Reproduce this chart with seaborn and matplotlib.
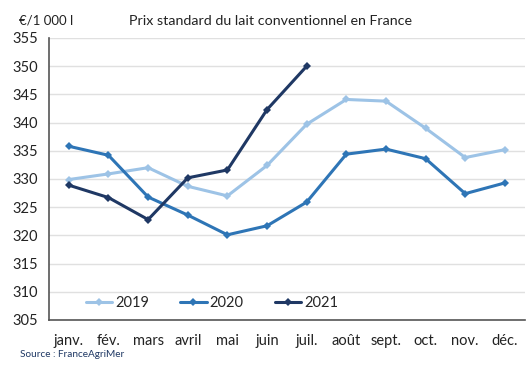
import matplotlib
matplotlib.use('Agg')
import matplotlib.pyplot as plt
import numpy as np
import pandas as pd
import seaborn as sns

months = ['janv.', 'fév.', 'mars', 'avril', 'mai', 'juin', 'juil.',
          'août', 'sept.', 'oct.', 'nov.', 'déc.']
prix_2019 = [329.9, 330.9, 332.0, 328.7, 327.0, 332.4, 339.7, 344.1, 343.8, 339.0, 333.8, 335.2]
prix_2020 = [335.8, 334.2, 326.8, 323.6, 320.1, 321.7, 325.9, 334.4, 335.3, 333.6, 327.4, 329.3]
prix_2021 = [328.9, 326.7, 322.8, 330.2, 331.6, 342.3, 350.0]
years = ['2019', '2020', '2021']
colors = ['#9dc3e6', '#2e75b6', '#1f3864']

rows = []
for yr, vals in zip(years, [prix_2019, prix_2020, prix_2021]):
    for i, v in enumerate(vals):
        rows.append({'mois': i, 'annee': yr, 'prix': v})
df = pd.DataFrame(rows)

sns.set_style('white')
plt.rcParams['font.family'] = ['Lato', 'DejaVu Sans']

fig = plt.figure(figsize=(5.3, 3.76), dpi=100)
ax = fig.add_axes([0.0925, 0.149, 0.8975, 0.75])

sns.lineplot(data=df, x='mois', y='prix', hue='annee', hue_order=years,
             palette=colors, marker='D', markersize=4.5, markeredgewidth=0,
             linewidth=2.2, ax=ax)

ax.set_xlim(-0.5, 11.5)
ax.set_ylim(305, 355)
ax.set_yticks(np.arange(305, 356, 5))
ax.yaxis.grid(True, color='#e0e0e0', linewidth=1)
ax.set_axisbelow(True)

ax.set_xticks(np.arange(12))
ax.set_xticklabels(months)
ax.set_xticks(np.arange(-0.5, 12, 1), minor=True)
ax.tick_params(axis='x', which='major', length=0, pad=10, labelsize=10.5, colors='#222222')
ax.tick_params(axis='x', which='minor', length=5, width=1, color='#555555', direction='out')
ax.tick_params(axis='y', length=4, width=1, color='#555555', direction='out', labelsize=10.5,
               colors='#222222', pad=4)
ax.tick_params(axis='y', color='#555555')

for s in ['top', 'right']:
    ax.spines[s].set_visible(False)
for s in ['left', 'bottom']:
    ax.spines[s].set_color('#555555')
    ax.spines[s].set_linewidth(1.2)

ax.set_xlabel('')
ax.set_ylabel('')

leg = ax.legend(loc='lower left', bbox_to_anchor=(0.05, -0.01), ncol=3, frameon=False,
                fontsize=10.5, handlelength=1.8, columnspacing=2.15, handletextpad=0.2)

fig.text(0.51, 0.945, 'Prix standard du lait conventionnel en France', ha='center', va='center',
         fontsize=10.3, color='#222222')
fig.text(0.035, 0.945, '€/1 000 l', ha='left', va='center', fontsize=9.5, color='#222222')
fig.text(0.038, 0.058, 'Source : FranceAgriMer', ha='left', va='center', fontsize=7.2,
         color='#1f3864')

fig.savefig('out.png', dpi=100)
